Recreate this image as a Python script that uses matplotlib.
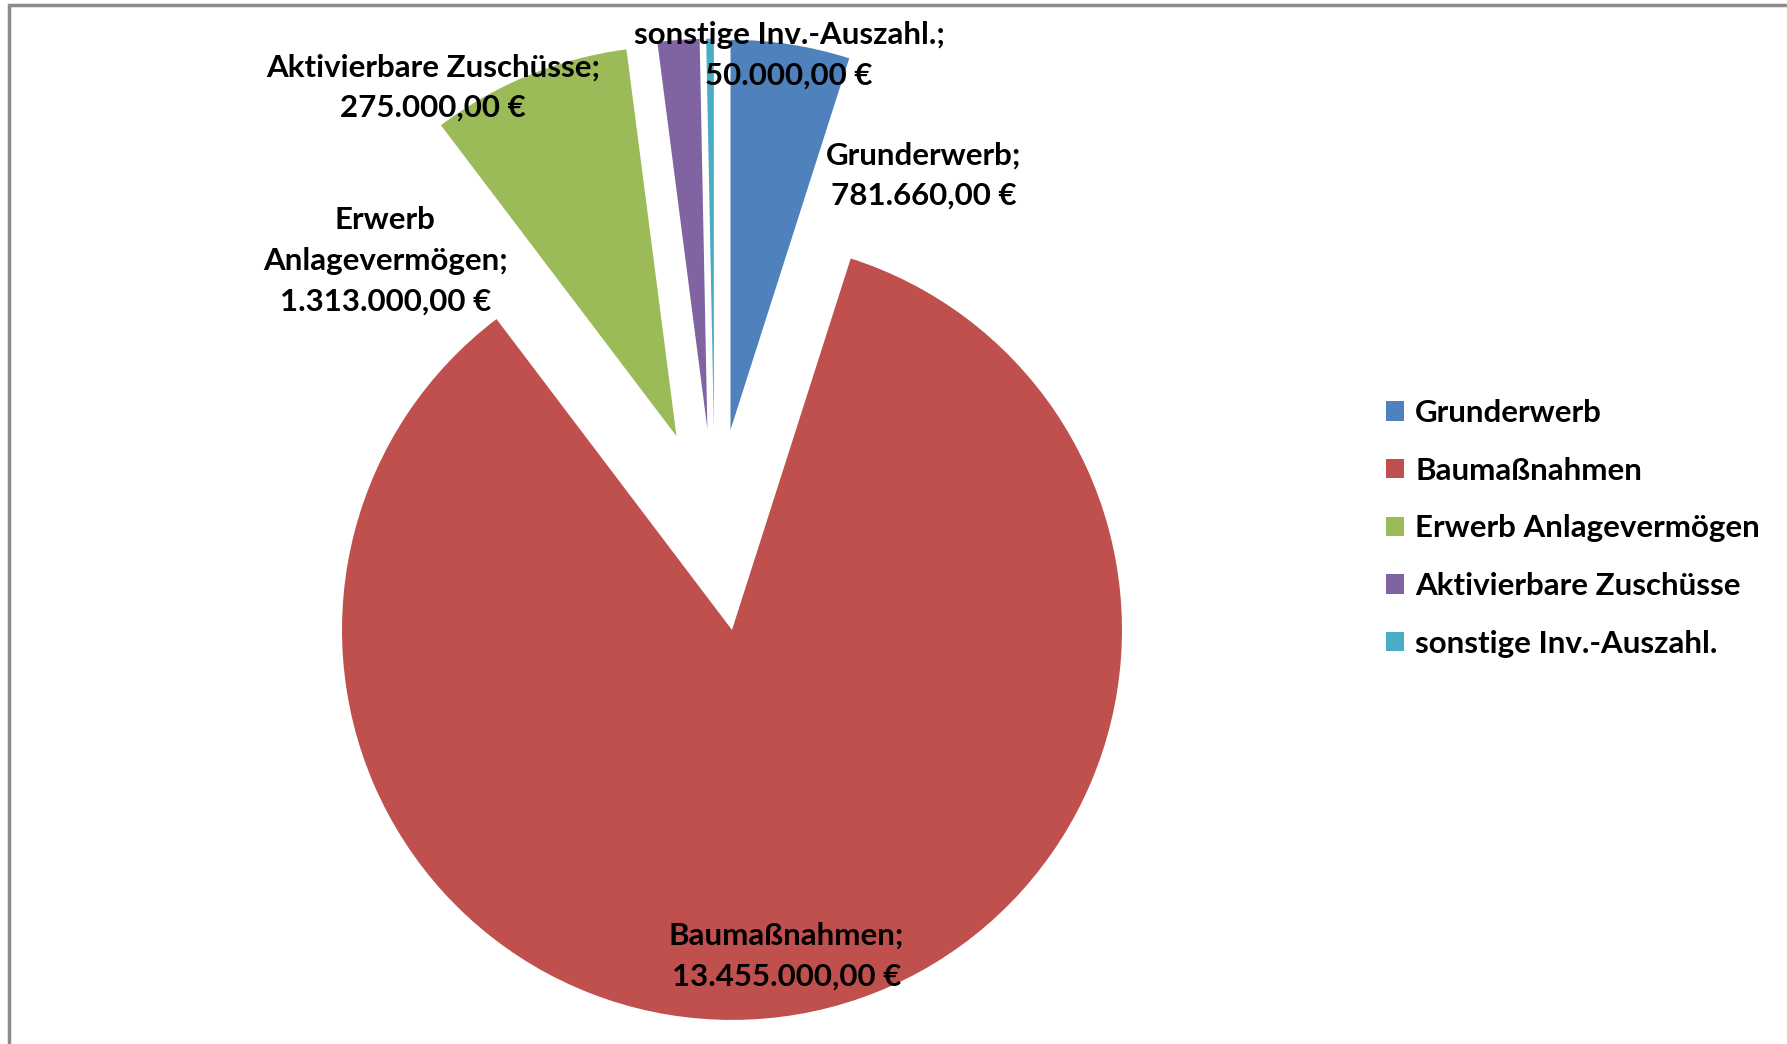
import matplotlib
matplotlib.use('Agg')
import matplotlib.pyplot as plt
from matplotlib.patches import Rectangle

# Data
categories = ['Grunderwerb', 'Baumaßnahmen', 'Erwerb Anlagevermögen',
              'Aktivierbare Zuschüsse', 'sonstige Inv.-Auszahl.']
values = [781660.00, 13455000.00, 1313000.00, 275000.00, 50000.00]
label_names = ['Grunderwerb;', 'Baumaßnahmen;', 'Erwerb\nAnlagevermögen;',
               'Aktivierbare Zuschüsse;', 'sonstige Inv.-Auszahl.;']
colors = ['#4F81BD', '#C0504D', '#9BBB59', '#8064A2', '#4BACC6']
explode = [0.26, 0.26, 0.26, 0.26, 0.26]

# label positions (pie radius = 1, pie centre = 0,0)
label_pos = [(0.535, 0.909), (0.184, -1.093), (-0.845, 0.691),
             (-0.722, 1.134), (0.190, 1.216)]


def fmt_euro(v):
    s = f'{v:,.2f}'
    s = s.replace(',', 'X').replace('.', ',').replace('X', '.')
    return s + ' €'


plt.rcParams['font.family'] = ['Lato', 'DejaVu Sans']

fig = plt.figure(figsize=(17.87, 10.44), dpi=100)
ax = fig.add_axes([0, 0, 1, 1])

wedges, _ = ax.pie(values, colors=colors, explode=explode, startangle=90,
                   counterclock=False, radius=1.0)

for name, v, (x, y) in zip(label_names, values, label_pos):
    ax.text(x, y, name + '\n' + fmt_euro(v), ha='center', va='center',
            fontsize=22.5, fontweight='bold', linespacing=1.55, color='black')

ax.set_xlim(-1.833, 2.749)
ax.set_ylim(-1.318, 1.359)
ax.axis('off')

leg = ax.legend(wedges, categories, loc='center left',
                bbox_to_anchor=(0.760, 0.494), frameon=False,
                prop={'size': 22.5, 'weight': 'bold'},
                handlelength=0.58, handleheight=0.58, handletextpad=0.35,
                labelspacing=0.95)

# chart area border
fig.patches.append(Rectangle((8 / 1568, -0.05), 1.2, 1.05 - 4 / 916,
                             transform=fig.transFigure, fill=False,
                             edgecolor='#8c8c8c', linewidth=2.5))

fig.savefig('out.png', dpi=100)
